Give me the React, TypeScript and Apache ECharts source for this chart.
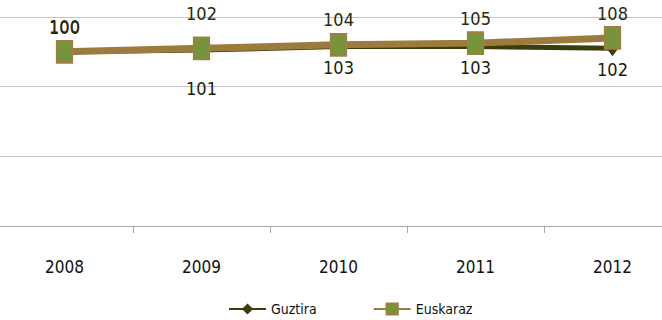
import React, { useEffect, useRef } from "react";
import * as echarts from "echarts";

const categories = ["2008", "2009", "2010", "2011", "2012"];
const guztira = [100, 101, 103, 103, 102];
const euskaraz = [100, 102, 104, 105, 108];
const yTicks = { min: 0, max: 120, interval: 40 };

const FONT = "'DejaVu Sans Condensed', 'Liberation Sans', sans-serif";

export default function App() {
  const ref = useRef<HTMLDivElement>(null);
  useEffect(() => {
    document.body.style.margin = "0";
    if (!ref.current) return;
    const chart = echarts.init(ref.current, undefined, { renderer: "svg" });
    const gData = guztira.map((v, i) => {
      if (i === 0) return { value: v, label: { position: "top", offset: [0, -3] } };
      if (i === 1) return { value: v, label: { offset: [0, 17] } };
      return { value: v };
    });
    const eData = euskaraz.map((v, i) => {
      if (i === 1) return { value: v, label: { offset: [0, -10] } };
      return { value: v };
    });
    chart.setOption({
      animation: false,
      grid: { left: -4, width: 685, top: 17, height: 209, outerBoundsMode: "none", containLabel: false },
      xAxis: {
        type: "category",
        data: categories,
        boundaryGap: true,
        axisLine: { lineStyle: { color: "#a6a6a6", width: 1 } },
        axisTick: { show: true, length: 7, lineStyle: { color: "#a6a6a6" } },
        axisLabel: { margin: 32, fontSize: 17, color: "#111", fontFamily: FONT },
      },
      yAxis: {
        type: "value",
        min: yTicks.min,
        max: yTicks.max,
        interval: yTicks.interval,
        axisLabel: { show: false },
        axisLine: { show: false },
        axisTick: { show: false },
        splitLine: { lineStyle: { color: "#c4c4c4", width: 1 } },
      },
      legend: {
        left: 228,
        top: 302,
        itemWidth: 37,
        itemHeight: 14,
        itemGap: 56,
        padding: 0,
        textStyle: { fontSize: 14, color: "#111", fontFamily: FONT },
        data: ["Guztira", "Euskaraz"],
      },
      series: [
        {
          name: "Guztira",
          type: "line",
          data: gData,
          symbol: "diamond",
          symbolSize: [12, 16],
          lineStyle: { color: "#3d3d0b", width: 5 },
          itemStyle: { color: "#3d3d0b" },
          label: {
            show: true,
            position: "bottom",
            distance: 4,
            fontSize: 18,
            color: "#1c1c0a",
            fontFamily: FONT,
          },
          z: 2,
        },
        {
          name: "Euskaraz",
          type: "line",
          data: eData,
          symbol: "rect",
          symbolSize: [16, 22],
          lineStyle: { color: "#9b7c3e", width: 7 },
          itemStyle: { color: "#77933c", borderColor: "#a07f45", borderWidth: 1.5 },
          label: {
            show: true,
            position: "top",
            distance: 4,
            fontSize: 18,
            color: "#2a2a0c",
            fontFamily: FONT,
          },
          z: 3,
        },
      ],
    });
    return () => chart.dispose();
  }, []);
  return <div ref={ref} style={{ width: 662, height: 320 }} />;
}
